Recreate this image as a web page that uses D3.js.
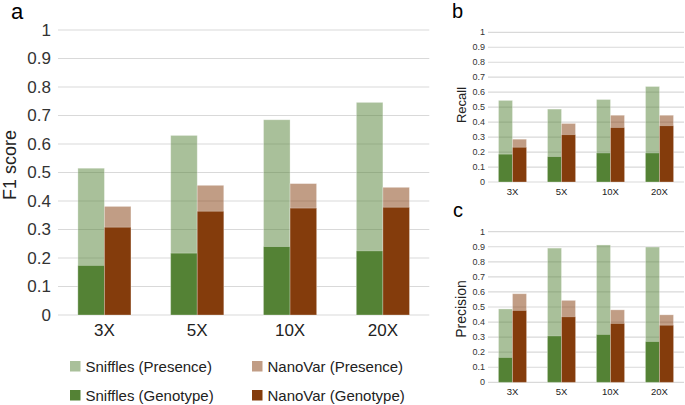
<!DOCTYPE html>
<html><head><meta charset="utf-8">
<script src="https://cdn.jsdelivr.net/npm/d3@7"></script>
<style>body{margin:0;background:#fff}svg{display:block;font-family:"Liberation Sans",Arial,sans-serif}</style>
</head><body>
<svg id="c" width="685" height="405"></svg>
<script>
const categories = ["3X","5X","10X","20X"];
const yTicks = [0,0.1,0.2,0.3,0.4,0.5,0.6,0.7,0.8,0.9,1];
const yTickLabels = ["0","0.1","0.2","0.3","0.4","0.5","0.6","0.7","0.8","0.9","1"];
// F1 score (panel a)
const f1SnifflesPresence = [0.515,0.630,0.685,0.746];
const f1SnifflesGenotype = [0.174,0.217,0.240,0.225];
const f1NanoVarPresence  = [0.381,0.455,0.461,0.448];
const f1NanoVarGenotype  = [0.308,0.364,0.375,0.378];
// Recall (panel b)
const recSnifflesPresence = [0.545,0.487,0.551,0.638];
const recSnifflesGenotype = [0.186,0.170,0.194,0.194];
const recNanoVarPresence  = [0.286,0.391,0.446,0.446];
const recNanoVarGenotype  = [0.232,0.316,0.364,0.376];
// Precision (panel c)
const preSnifflesPresence = [0.487,0.891,0.912,0.898];
const preSnifflesGenotype = [0.165,0.308,0.318,0.271];
const preNanoVarPresence  = [0.588,0.544,0.481,0.448];
const preNanoVarGenotype  = [0.477,0.435,0.391,0.379];
const legendLabels = ["Sniffles (Presence)","NanoVar (Presence)","Sniffles (Genotype)","NanoVar (Genotype)"];

const green = "#548235", brown = "#843c0c";
const svg = d3.select("#c");

function panel(o){
  const x = d3.scaleBand().domain(categories).range([o.x0,o.x1]).paddingInner(0.4286).paddingOuter(0.2143);
  const y = d3.scaleLinear().domain([0,1]).range([o.y0,o.y1]);
  const g = svg.append("g");
  g.selectAll("line.grid").data(yTicks).join("line")
    .attr("x1",o.x0).attr("x2",o.x1).attr("y1",d=>y(d)).attr("y2",d=>y(d))
    .attr("stroke","#d9d9d9").attr("stroke-width",1.2);
  g.selectAll("text.yt").data(yTicks).join("text")
    .attr("x",o.x0-o.tickGap).attr("y",d=>y(d)).attr("dy","0.35em")
    .attr("text-anchor","end").attr("font-size",o.tickSize).attr("fill","#333")
    .text((d,i)=>yTickLabels[i]);
  const bw = x.bandwidth()/2;
  const series = [
    {vals:o.sp, off:0, col:green, op:0.5},
    {vals:o.np, off:1, col:brown, op:0.5},
    {vals:o.sg, off:0, col:green, op:1},
    {vals:o.ng, off:1, col:brown, op:1}
  ];
  series.forEach(s=>{
    g.selectAll(null).data(categories).join("rect")
      .attr("x",d=>x(d)+s.off*bw).attr("width",bw)
      .attr("y",(d,i)=>y(s.vals[i])).attr("height",(d,i)=>y(0)-y(s.vals[i]))
      .attr("fill",s.col).attr("fill-opacity",s.op)
      .attr("stroke","#fff").attr("stroke-opacity",0.35).attr("stroke-width",0.8);
  });
  g.selectAll("text.xt").data(categories).join("text")
    .attr("x",d=>x(d)+x.bandwidth()/2).attr("y",o.xLabY)
    .attr("text-anchor","middle").attr("font-size",o.xSize).attr("fill","#222").text(d=>d);
  g.append("text").attr("transform",`translate(${o.titleX},${o.titleY}) rotate(-90)`)
    .attr("text-anchor","middle").attr("font-size",o.titleSize).attr("fill","#222").text(o.title);
  g.append("text").attr("x",o.letterX).attr("y",o.letterY).attr("font-size",o.letterSize).attr("fill","#000").text(o.letter);
}

panel({x0:58,x1:429.3,y0:315,y1:30,tickGap:7,tickSize:17,xSize:17,xLabY:336,
  sp:f1SnifflesPresence,sg:f1SnifflesGenotype,np:f1NanoVarPresence,ng:f1NanoVarGenotype,
  title:"F1 score",titleX:16,titleY:165,titleSize:18,letter:"a",letterX:11,letterY:19,letterSize:22});
panel({x0:488,x1:684,y0:182,y1:32.3,tickGap:3,tickSize:9,xSize:9.5,xLabY:194.5,
  sp:recSnifflesPresence,sg:recSnifflesGenotype,np:recNanoVarPresence,ng:recNanoVarGenotype,
  title:"Recall",titleX:466,titleY:105,titleSize:13,letter:"b",letterX:452,letterY:18,letterSize:20});
panel({x0:488,x1:684,y0:382.3,y1:231.7,tickGap:3,tickSize:9,xSize:9.5,xLabY:395,
  sp:preSnifflesPresence,sg:preSnifflesGenotype,np:preNanoVarPresence,ng:preNanoVarGenotype,
  title:"Precision",titleX:466,titleY:309,titleSize:14,letter:"c",letterX:453,letterY:217,letterSize:20});

const legPos = [[70,361],[252,361],[70,390],[252,390]];
const legCol = [[green,0.5],[brown,0.5],[green,1],[brown,1]];
const lg = svg.append("g");
legendLabels.forEach((t,i)=>{
  lg.append("rect").attr("x",legPos[i][0]).attr("y",legPos[i][1]).attr("width",10.5).attr("height",10.5)
    .attr("fill",legCol[i][0]).attr("fill-opacity",legCol[i][1]);
  lg.append("text").attr("x",legPos[i][0]+15.5).attr("y",legPos[i][1]+11)
    .attr("font-size",15).attr("fill","#222").text(t);
});
</script>
</body></html>
